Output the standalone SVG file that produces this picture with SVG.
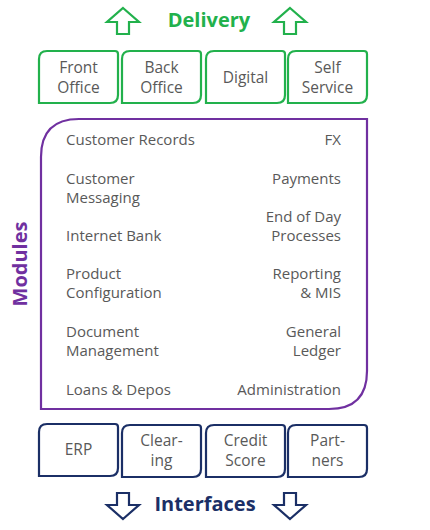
<svg xmlns="http://www.w3.org/2000/svg" width="430" height="530" viewBox="0 0 430 530">
<style>
.t{font-family:"Open Sans","Liberation Sans",sans-serif;font-size:15px;fill:#595959}
.bt{font-family:"Open Sans","Liberation Sans",sans-serif;font-size:15.5px;fill:#595959;text-anchor:middle}
.r{text-anchor:end}
.gbox{fill:#fff;stroke:#22b14c;stroke-width:2.2}
.nbox{fill:#fff;stroke:#1b2f66;stroke-width:2.2}
.garrow{fill:#fff;stroke:#22b14c;stroke-width:2.2;stroke-linejoin:miter}
.narrow{fill:#fff;stroke:#1b2f66;stroke-width:2.2;stroke-linejoin:miter}
.title{font-family:"Open Sans","Liberation Sans",sans-serif;font-weight:bold;font-size:20px}
</style>
<defs>
<path id="box" d="M0,8 Q0,0 8,0 L76,0 Q79,0 79,3 L79,44 Q79,52 71,52 L0,52 Z"/>
<path id="up" d="M0,-13 L16,1 L6,1 L6,13 L-6,13 L-6,1 L-16,1 Z"/>
<path id="down" d="M0,13 L16,-1 L6,-1 L6,-13 L-6,-13 L-6,-1 L-16,-1 Z"/>
</defs>
<rect width="430" height="530" fill="#fff"/>

<g id="delivery">
<use href="#up" class="garrow" transform="translate(123,21)"/>
<use href="#up" class="garrow" transform="translate(290,21)"/>
<text class="title" x="209" y="27" text-anchor="middle" fill="#22b14c">Delivery</text>
</g>

<g id="front-office"><use href="#box" class="gbox" transform="translate(39,51)"/><text class="bt" x="78.5" y="73">Front</text><text class="bt" x="78.5" y="93">Office</text></g>
<g id="back-office"><use href="#box" class="gbox" transform="translate(122,51)"/><text class="bt" x="161.5" y="73">Back</text><text class="bt" x="161.5" y="93">Office</text></g>
<g id="digital"><use href="#box" class="gbox" transform="translate(206,51)"/><text class="bt" x="245.5" y="83">Digital</text></g>
<g id="self-service"><use href="#box" class="gbox" transform="translate(288,51)"/><text class="bt" x="327.5" y="73">Self</text><text class="bt" x="327.5" y="93">Service</text></g>

<g id="modules">
<path d="M41,409 L41,157 Q41,119 79,119 L367,119 L367,371 Q367,409 329,409 Z" fill="#fff" stroke="#7030a0" stroke-width="2.2"/>
<text class="title" transform="translate(27,264) rotate(-90)" text-anchor="middle" fill="#7030a0">Modules</text>
<text class="t" x="66" y="145">Customer Records</text>
<text class="t" x="66" y="184">Customer</text>
<text class="t" x="66" y="203">Messaging</text>
<text class="t" x="66" y="241">Internet Bank</text>
<text class="t" x="66" y="279">Product</text>
<text class="t" x="66" y="298">Configuration</text>
<text class="t" x="66" y="337">Document</text>
<text class="t" x="66" y="356">Management</text>
<text class="t" x="66" y="395">Loans &amp; Depos</text>
<text class="t r" x="341" y="145">FX</text>
<text class="t r" x="341" y="184">Payments</text>
<text class="t r" x="341" y="222">End of Day</text>
<text class="t r" x="341" y="241">Processes</text>
<text class="t r" x="341" y="279">Reporting</text>
<text class="t r" x="341" y="298">&amp; MIS</text>
<text class="t r" x="341" y="337">General</text>
<text class="t r" x="341" y="356">Ledger</text>
<text class="t r" x="341" y="395">Administration</text>
</g>

<g id="erp"><use href="#box" class="nbox" transform="translate(39,424)"/><text class="bt" x="78.5" y="455">ERP</text></g>
<g id="clearing"><use href="#box" class="nbox" transform="translate(122,425)"/><text class="bt" x="161.5" y="446">Clear-</text><text class="bt" x="161.5" y="466">ing</text></g>
<g id="credit-score"><use href="#box" class="nbox" transform="translate(206,425)"/><text class="bt" x="245.5" y="446">Credit</text><text class="bt" x="245.5" y="466">Score</text></g>
<g id="partners"><use href="#box" class="nbox" transform="translate(288,425)"/><text class="bt" x="327.5" y="446">Part-</text><text class="bt" x="327.5" y="466">ners</text></g>

<g id="interfaces">
<use href="#down" class="narrow" transform="translate(123,506)"/>
<use href="#down" class="narrow" transform="translate(290,506)"/>
<text class="title" x="205" y="511" text-anchor="middle" fill="#1b2f66">Interfaces</text>
</g>
</svg>
